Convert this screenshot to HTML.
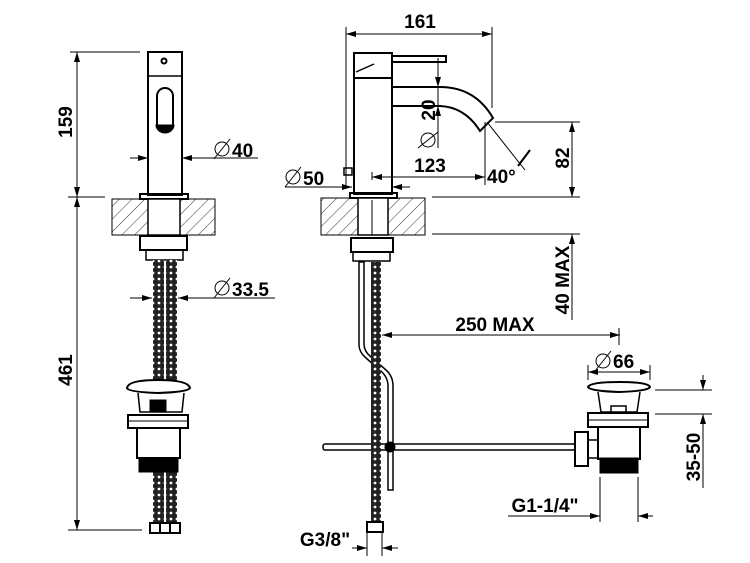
<!DOCTYPE html>
<html><head><meta charset="utf-8"><style>
html,body{margin:0;padding:0;background:#fff;width:750px;height:563px;overflow:hidden}
svg text{font-family:"Liberation Sans",sans-serif;font-weight:bold;font-size:19px;fill:#000}
</style></head><body>
<svg width="750" height="563" viewBox="0 0 750 563" xmlns="http://www.w3.org/2000/svg">
<defs>
<pattern id="h" width="9" height="9" patternUnits="userSpaceOnUse" patternTransform="rotate(45)">
<line x1="0" y1="0" x2="0" y2="9" stroke="#000" stroke-width="0.8"/></pattern>
<marker id="a" viewBox="0 0 10 6" refX="10" refY="3" markerWidth="10" markerHeight="6" orient="auto-start-reverse" markerUnits="userSpaceOnUse"><path d="M0,0 L10,3 L0,6z" fill="#000"/></marker>
<pattern id="hose" width="6" height="6" patternUnits="userSpaceOnUse"><rect width="6" height="6" fill="#222"/><circle cx="3" cy="3" r="1.4" fill="#fff"/></pattern>
</defs>
<g fill="none" stroke="#000" stroke-width="1">
<line x1="70" y1="52" x2="140" y2="52"/>
<line x1="68" y1="197" x2="105" y2="197"/>
<line x1="68" y1="530" x2="142" y2="530"/>
<line x1="77" y1="52" x2="77" y2="197" marker-start="url(#a)" marker-end="url(#a)"/>
<line x1="77" y1="197" x2="77" y2="530" marker-start="url(#a)" marker-end="url(#a)"/>
<rect x="148" y="52" width="34" height="143" stroke-width="2"/>
<line x1="148" y1="76" x2="182" y2="76" stroke-width="1.5"/>
<circle cx="164" cy="61" r="2.5" stroke-width="2"/>
<path d="M157,128 V96 a8,8 0 0 1 16,0 V128" stroke-width="2"/>
<path d="M156,125 a9,8 0 0 0 18,0 z" fill="#000"/>
<rect x="140" y="194" width="48" height="5" stroke-width="2"/>
<rect x="112" y="199" width="103" height="36" fill="url(#h)"/>
<rect x="148" y="199" width="32" height="36" fill="#fff" stroke-width="1.5"/>
<rect x="140" y="236" width="47" height="14" stroke-width="2"/>
<rect x="146" y="250" width="37" height="10" stroke-width="1.5"/>
<line x1="130" y1="158" x2="148" y2="158" marker-end="url(#a)"/>
<line x1="258" y1="158" x2="182" y2="158" marker-end="url(#a)"/>
<line x1="130" y1="298" x2="152" y2="298" marker-end="url(#a)"/>
<line x1="275" y1="298" x2="178" y2="298" marker-end="url(#a)"/>
<rect x="153" y="260" width="11" height="120" fill="url(#hose)" stroke="none"/>
<rect x="166" y="260" width="11" height="120" fill="url(#hose)" stroke="none"/>
<rect x="153" y="472" width="11" height="52" fill="url(#hose)" stroke="none"/>
<rect x="166" y="472" width="11" height="52" fill="url(#hose)" stroke="none"/>
<path d="M127,388 Q128,380 158,380 Q188,380 190,388 Q188,392 158,393 Q128,392 127,388z" stroke-width="2"/>
<path d="M138,393 L140,412 L182,412 L184,393" stroke-width="1.5"/>
<rect x="150" y="400" width="16" height="12" fill="#000"/>
<rect x="128" y="415" width="60" height="13" stroke-width="2"/>
<line x1="128" y1="421" x2="188" y2="421"/>
<rect x="137" y="428" width="43" height="30" stroke-width="2"/>
<rect x="139" y="458" width="39" height="14" fill="#000"/>
<rect x="150" y="523" width="10" height="10" stroke-width="2"/>
<rect x="160" y="523" width="10" height="10" stroke-width="2"/>
<rect x="170" y="523" width="10" height="10" stroke-width="2"/>

<line x1="346" y1="27" x2="346" y2="185"/>
<line x1="492" y1="27" x2="492" y2="108"/>
<line x1="346" y1="34" x2="492" y2="34" marker-start="url(#a)" marker-end="url(#a)"/>
<rect x="354" y="53" width="38" height="141" stroke-width="2"/>
<line x1="354" y1="78" x2="392" y2="78" stroke-width="2"/>
<path d="M356,72 L374,64" stroke-width="1.5"/>
<rect x="392" y="56" width="54" height="6" stroke-width="2"/>
<path d="M392,87 H440 Q475,87 493,118 L480,131 Q465,107 440,106 H392" stroke-width="2"/>
<line x1="438" y1="70" x2="438" y2="148"/>
<line x1="438" y1="58" x2="438" y2="87" marker-end="url(#a)"/>
<line x1="438" y1="125" x2="438" y2="106" marker-end="url(#a)"/>
<rect x="344" y="168" width="8" height="7" stroke-width="1.5"/>
<rect x="350" y="193" width="47" height="5" stroke-width="2"/>
<line x1="285" y1="187" x2="352" y2="187" marker-end="url(#a)"/>
<line x1="410" y1="187" x2="392" y2="187" marker-end="url(#a)"/>
<line x1="372" y1="180" x2="372" y2="172"/>
<line x1="372" y1="177" x2="485" y2="177" marker-start="url(#a)" marker-end="url(#a)"/>
<line x1="485" y1="122" x2="485" y2="185"/>
<line x1="487" y1="122" x2="525" y2="170"/>
<line x1="518" y1="166" x2="530" y2="150" stroke-width="2"/>
<line x1="495" y1="122" x2="580" y2="122"/>
<line x1="432" y1="197" x2="580" y2="197"/>
<line x1="432" y1="234" x2="580" y2="234"/>
<line x1="572" y1="122" x2="572" y2="197" marker-start="url(#a)" marker-end="url(#a)"/>
<line x1="572" y1="234" x2="572" y2="320" marker-start="url(#a)"/>
<rect x="321" y="198" width="104" height="37" fill="url(#h)"/>
<rect x="358" y="198" width="30" height="37" fill="#fff" stroke-width="1.5"/>
<line x1="372" y1="200" x2="372" y2="235"/>
<rect x="351" y="238" width="42" height="14" stroke-width="2"/>
<rect x="353" y="252" width="37" height="9" stroke-width="1.5"/>
<path d="M359,262 V345 Q359,352 366,358 L382,372 Q388,378 388,386 V490 H393 V386 Q393,376 386,370 L370,356 Q364,351 364,344 V262z" stroke-width="1.5" fill="#fff"/>
<rect x="371" y="262" width="10" height="260" fill="url(#hose)" stroke="none"/>
<line x1="382" y1="335" x2="620" y2="335" marker-start="url(#a)" marker-end="url(#a)"/>
<line x1="619" y1="328" x2="619" y2="345"/>
<rect x="323" y="444" width="252" height="6" rx="2" fill="#fff" stroke-width="1.5"/>
<rect x="371" y="440" width="10" height="82" fill="url(#hose)" stroke="none"/>
<circle cx="390" cy="447" r="5" fill="#000"/>
<rect x="367" y="522" width="16" height="10" stroke-width="2"/>
<line x1="367" y1="532" x2="367" y2="556"/>
<line x1="382" y1="532" x2="382" y2="556"/>
<line x1="352" y1="548" x2="367" y2="548" marker-end="url(#a)"/>
<line x1="398" y1="548" x2="382" y2="548" marker-end="url(#a)"/>
<line x1="588" y1="372" x2="650" y2="372" marker-start="url(#a)" marker-end="url(#a)"/>
<line x1="588" y1="365" x2="588" y2="380"/><line x1="650" y1="365" x2="650" y2="380"/>
<path d="M588,387 Q590,382 619,382 Q648,382 650,387 Q648,391 619,392 Q590,391 588,387z" stroke-width="2"/>
<path d="M598,392 L601,412 L637,412 L640,392" stroke-width="1.5"/>
<rect x="611" y="406" width="15" height="7" stroke-width="1.5"/>
<rect x="588" y="413" width="60" height="14" stroke-width="2"/>
<line x1="588" y1="420" x2="648" y2="420"/>
<rect x="598" y="427" width="42" height="32" stroke-width="2"/>
<rect x="600" y="458" width="38" height="15" fill="#000"/>
<rect x="575" y="432" width="13" height="34" stroke-width="2"/>
<path d="M588,440 H598 M588,458 H598" stroke-width="1.5"/>
<line x1="655" y1="390" x2="712" y2="390"/>
<line x1="655" y1="414" x2="712" y2="414"/>
<line x1="703" y1="375" x2="703" y2="390" marker-end="url(#a)"/>
<line x1="703" y1="488" x2="703" y2="414" marker-end="url(#a)"/>
<line x1="600" y1="477" x2="600" y2="522"/>
<line x1="638" y1="477" x2="638" y2="522"/>
<line x1="508" y1="516" x2="600" y2="516" marker-end="url(#a)"/>
<line x1="653" y1="516" x2="638" y2="516" marker-end="url(#a)"/>
<circle cx="222" cy="149" r="7"/><line x1="214" y1="159" x2="230" y2="139"/>
<circle cx="222" cy="288" r="7"/><line x1="214" y1="298" x2="230" y2="278"/>
<circle cx="293" cy="177" r="7"/><line x1="285" y1="187" x2="301" y2="167"/>
<circle cx="603" cy="361" r="7"/><line x1="595" y1="371" x2="611" y2="351"/>
<circle cx="428" cy="140" r="7"/><line x1="418" y1="148" x2="438" y2="132"/>
</g>
<text x="232" y="157">40</text>
<text x="232" y="296">33.5</text>
<text x="303" y="185">50</text>
<text x="613" y="368">66</text>
<text x="420" y="28" text-anchor="middle">161</text>
<text x="430" y="172" text-anchor="middle">123</text>
<text x="487" y="183">40°</text>
<text x="495" y="331" text-anchor="middle">250 MAX</text>
<text x="545" y="512" text-anchor="middle">G1-1/4"</text>
<text x="325" y="546" text-anchor="middle">G3/8"</text>
<text transform="translate(72,122) rotate(-90)" text-anchor="middle">159</text>
<text transform="translate(72,370) rotate(-90)" text-anchor="middle">461</text>
<text transform="translate(435,110) rotate(-90)" text-anchor="middle">20</text>
<text transform="translate(569,158) rotate(-90)" text-anchor="middle">82</text>
<text transform="translate(569,280) rotate(-90)" text-anchor="middle">40 MAX</text>
<text transform="translate(700,457) rotate(-90)" text-anchor="middle">35-50</text>
</svg>
</body></html>
